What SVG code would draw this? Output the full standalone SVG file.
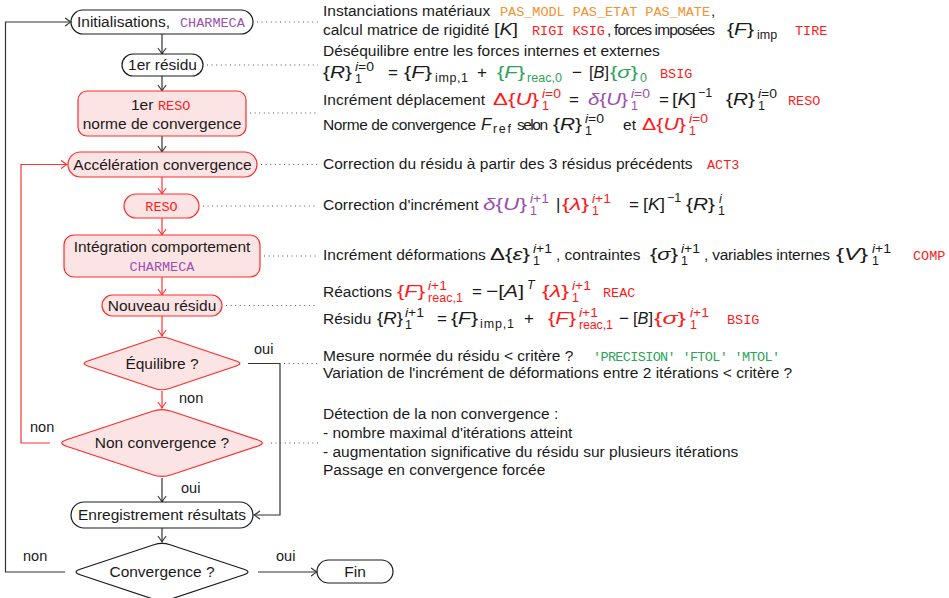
<svg xmlns="http://www.w3.org/2000/svg" width="949" height="598" viewBox="0 0 949 598">
  <defs>
    <style>
      text { font-family: "Liberation Sans", Arial, sans-serif; font-size: 15.5px; fill: #1a1a1a; }
      .c { text-anchor: middle; }
      .i { font-style: italic; }
      .mt { font-size: 17px; }
      .s { font-size: 12.5px; }
      .m { font-family: "Liberation Mono", "Courier New", monospace; font-size: 13.5px; }
      .red { fill: #ff1a1a; }
      .org { fill: #f39130; }
      .pur { fill: #9c4fb0; }
      .grn { fill: #2da35a; }
      .lbl { font-size: 14.5px; }
      .nb { fill: #ffffff; stroke: #1a1a1a; stroke-width: 1.2; }
      .nr { fill: #fde4e4; stroke: #ff2a2a; stroke-width: 1.2; }
      .kb { fill: none; stroke: #333333; stroke-width: 1.2; }
      .kr { fill: none; stroke: #ff3333; stroke-width: 1.2; }
      .dot { fill: none; stroke: #555555; stroke-width: 1.1; stroke-dasharray: 1 3.6; }
    </style>
    <marker id="ab" markerUnits="userSpaceOnUse" markerWidth="12" markerHeight="12" viewBox="-7 -6 8 12" refX="0" refY="0" orient="auto">
      <path d="M -5.5 -3.8 Q -1.8 -0.9 0 0 Q -1.8 0.9 -5.5 3.8" fill="none" stroke="#333333" stroke-width="1.2" stroke-linecap="round"/>
    </marker>
    <marker id="ar" markerUnits="userSpaceOnUse" markerWidth="12" markerHeight="12" viewBox="-7 -6 8 12" refX="0" refY="0" orient="auto">
      <path d="M -5.5 -3.8 Q -1.8 -0.9 0 0 Q -1.8 0.9 -5.5 3.8" fill="none" stroke="#ff3333" stroke-width="1.2" stroke-linecap="round"/>
    </marker>
  </defs>

  <rect width="949" height="598" fill="#ffffff"/>

  <!-- connectors -->
  <g id="connectors">
    <line class="kb" x1="162" y1="34" x2="162" y2="54" marker-end="url(#ab)"/>
    <line class="kb" x1="162" y1="76" x2="162" y2="91" marker-end="url(#ab)"/>
    <line class="kb" x1="162" y1="136" x2="162" y2="152" marker-end="url(#ab)"/>
    <line class="kr" x1="162" y1="177" x2="162" y2="194" marker-end="url(#ar)"/>
    <line class="kr" x1="162" y1="218" x2="162" y2="235" marker-end="url(#ar)"/>
    <line class="kr" x1="162" y1="277" x2="162" y2="295" marker-end="url(#ar)"/>
    <line class="kr" x1="162" y1="316" x2="162" y2="336" marker-end="url(#ar)"/>
    <line class="kr" x1="162" y1="391" x2="162" y2="408" marker-end="url(#ar)"/>
    <line class="kb" x1="162" y1="478" x2="162" y2="502" marker-end="url(#ab)"/>
    <line class="kb" x1="162" y1="528" x2="162" y2="542" marker-end="url(#ab)"/>
    <!-- outer loop: Convergence ? (non) back to Initialisations -->
    <path class="kb" d="M 65 572 H 5.5 V 22 H 71" marker-end="url(#ab)"/>
    <!-- inner loop: Non convergence ? (non) back to acceleration -->
    <path class="kr" d="M 50 443 H 21 V 164.5 H 67" marker-end="url(#ar)"/>
    <!-- Equilibre ? (oui) to results -->
    <path class="kb" d="M 248 363.5 H 280 V 515 H 254" marker-end="url(#ab)"/>
    <line class="kb" x1="258" y1="572" x2="317" y2="572" marker-end="url(#ab)"/>

    <text class="lbl" x="254" y="354">oui</text>
    <text class="lbl" x="179" y="403">non</text>
    <text class="lbl" x="30" y="432">non</text>
    <text class="lbl" x="181" y="493">oui</text>
    <text class="lbl" x="23" y="561">non</text>
    <text class="lbl" x="276" y="561">oui</text>

    <!-- dotted leaders to the annotations -->
    <line class="dot" x1="257" y1="22" x2="318" y2="22"/>
    <line class="dot" x1="207" y1="65" x2="318" y2="65"/>
    <line class="dot" x1="250" y1="113" x2="318" y2="113"/>
    <line class="dot" x1="261" y1="164.5" x2="318" y2="164.5"/>
    <line class="dot" x1="203" y1="206" x2="318" y2="206"/>
    <line class="dot" x1="264" y1="256" x2="318" y2="256"/>
    <line class="dot" x1="226" y1="305.5" x2="318" y2="305.5"/>
    <line class="dot" x1="284" y1="363.5" x2="318" y2="363.5"/>
    <line class="dot" x1="271" y1="443" x2="318" y2="443"/>
  </g>

  <!-- nodes -->
  <g id="init">
    <rect class="nb" x="71" y="10" width="182" height="24" rx="12"/>
    <text x="77" y="27">Initialisations,</text>
    <text class="m pur" x="180" y="27">CHARMECA</text>
  </g>
  <g id="residu1">
    <rect class="nb" x="122" y="54" width="81" height="22" rx="11"/>
    <text class="c" x="162.5" y="70">1er résidu</text>
  </g>
  <g id="reso1">
    <rect class="nr" x="78" y="91" width="168" height="45" rx="9"/>
    <text x="131" y="110">1er</text>
    <text class="m red" x="158" y="110">RESO</text>
    <text class="c" x="162" y="129">norme de convergence</text>
  </g>
  <g id="acceleration">
    <rect class="nr" x="68" y="152" width="189" height="25" rx="12.5"/>
    <text class="c" x="162.5" y="170">Accélération convergence</text>
  </g>
  <g id="reso">
    <rect class="nr" x="124" y="194" width="75" height="24" rx="12"/>
    <text class="m red c" x="161.5" y="211">RESO</text>
  </g>
  <g id="integration">
    <rect class="nr" x="64" y="235" width="196" height="42" rx="10"/>
    <text class="c" x="162" y="252">Intégration comportement</text>
    <text class="m pur c" x="162" y="271">CHARMECA</text>
  </g>
  <g id="nouveau-residu">
    <rect class="nr" x="102" y="295" width="120" height="21" rx="10.5"/>
    <text class="c" x="162" y="311">Nouveau résidu</text>
  </g>
  <g id="equilibre">
    <path class="nr" d="M 169.3 338.5 L 236.2 361 Q 243.5 363.5 236.2 366 L 169.3 388.5 Q 162 391 154.7 388.5 L 87.8 366 Q 80.5 363.5 87.8 361 L 154.7 338.5 Q 162 336 169.3 338.5 Z"/>
    <text class="c" x="162" y="369">Équilibre ?</text>
  </g>
  <g id="non-convergence">
    <path class="nr" d="M 171.5 411.2 L 257.5 439.8 Q 267 443 257.5 446.2 L 171.5 474.8 Q 162 478 152.5 474.8 L 66.5 446.2 Q 57 443 66.5 439.8 L 152.5 411.2 Q 162 408 171.5 411.2 Z"/>
    <text class="c" x="162" y="448">Non convergence ?</text>
  </g>
  <g id="enregistrement">
    <rect class="nb" x="71" y="502" width="182" height="26" rx="13"/>
    <text class="c" x="162" y="520">Enregistrement résultats</text>
  </g>
  <g id="convergence">
    <path class="nb" d="M 170.1 544.7 L 243.9 569.3 Q 252 572 243.9 574.7 L 170.1 599.3 Q 162 602 153.9 599.3 L 80.1 574.7 Q 72 572 80.1 569.3 L 153.9 544.7 Q 162 542 170.1 544.7 Z"/>
    <text class="c" x="162" y="577">Convergence ?</text>
  </g>
  <g id="fin">
    <rect class="nb" x="317" y="560" width="76" height="23" rx="11.5"/>
    <text class="c" x="355" y="577">Fin</text>
  </g>

  <!-- annotations -->
  <g id="notes">
    <!-- initialisation -->
    <text x="323" y="16">Instanciations matériaux</text>
    <text class="m org" x="500" y="16" textLength="210">PAS_MODL PAS_ETAT PAS_MATE</text>
    <text x="711" y="16">,</text>
    <text x="323" y="35">calcul matrice de rigidité</text>
    <text class="mt" x="494" y="35" textLength="24" lengthAdjust="spacingAndGlyphs">[<tspan class="i">K</tspan>]</text>
    <text class="m red" x="532" y="35">RIGI KSIG</text>
    <text x="607" y="35" textLength="108">, forces imposées</text>
    <text class="mt" x="727" y="35" textLength="27" lengthAdjust="spacingAndGlyphs">{<tspan class="i">F</tspan>}</text>
    <text class="s" x="757" y="39">imp</text>
    <text class="m red" x="795" y="35">TIRE</text>

    <!-- first residual -->
    <text x="323" y="56">Déséquilibre entre les forces internes et externes</text>
    <text class="mt" x="323" y="78" textLength="29" lengthAdjust="spacingAndGlyphs">{<tspan class="i">R</tspan>}</text>
    <text class="s" x="355" y="70.5" textLength="19" lengthAdjust="spacingAndGlyphs"><tspan class="i">i</tspan>=0</text>
    <text class="s" x="355" y="83">1</text>
    <text class="mt" x="388" y="78">=</text>
    <text class="mt" x="404" y="78" textLength="28" lengthAdjust="spacingAndGlyphs">{<tspan class="i">F</tspan>}</text>
    <text class="s" x="435" y="82" textLength="33">imp,1</text>
    <text class="mt" x="477" y="78">+</text>
    <text class="mt grn" x="497" y="78" textLength="28" lengthAdjust="spacingAndGlyphs">{<tspan class="i">F</tspan>}</text>
    <text class="s grn" x="527" y="82" textLength="35">reac,0</text>
    <text class="mt" x="572" y="78">−</text>
    <text class="mt" x="589" y="78" textLength="20" lengthAdjust="spacingAndGlyphs">[<tspan class="i">B</tspan>]</text>
    <text class="mt grn" x="610" y="78" textLength="28" lengthAdjust="spacingAndGlyphs">{<tspan class="i">σ</tspan>}</text>
    <text class="s grn" x="640" y="82">0</text>
    <text class="m red" x="660" y="78">BSIG</text>

    <!-- first solve -->
    <text x="323" y="105">Incrément déplacement</text>
    <text class="mt red" x="493" y="105" textLength="46" lengthAdjust="spacingAndGlyphs">Δ{<tspan class="i">U</tspan>}</text>
    <text class="s red" x="542" y="97.5" textLength="19" lengthAdjust="spacingAndGlyphs"><tspan class="i">i</tspan>=0</text>
    <text class="s red" x="542" y="110">1</text>
    <text class="mt" x="569" y="105">=</text>
    <text class="mt pur" x="588" y="105" textLength="40" lengthAdjust="spacingAndGlyphs"><tspan class="i">δ</tspan>{<tspan class="i">U</tspan>}</text>
    <text class="s pur" x="631" y="97.5" textLength="19" lengthAdjust="spacingAndGlyphs"><tspan class="i">i</tspan>=0</text>
    <text class="s pur" x="631" y="110">1</text>
    <text class="mt" x="659" y="105">=</text>
    <text class="mt" x="672" y="105" textLength="24" lengthAdjust="spacingAndGlyphs">[<tspan class="i">K</tspan>]</text>
    <text class="s" x="698" y="97">−1</text>
    <text class="mt" x="726" y="105" textLength="29" lengthAdjust="spacingAndGlyphs">{<tspan class="i">R</tspan>}</text>
    <text class="s" x="758" y="97.5" textLength="19" lengthAdjust="spacingAndGlyphs"><tspan class="i">i</tspan>=0</text>
    <text class="s" x="758" y="110">1</text>
    <text class="m red" x="788" y="105">RESO</text>

    <text x="323" y="130" textLength="153">Norme de convergence</text>
    <text class="mt i" x="481" y="130">F</text>
    <text class="s" x="493" y="133" textLength="18">ref</text>
    <text x="517" y="130" textLength="31">selon</text>
    <text class="mt" x="553" y="130" textLength="29" lengthAdjust="spacingAndGlyphs">{<tspan class="i">R</tspan>}</text>
    <text class="s" x="585" y="122.5" textLength="19" lengthAdjust="spacingAndGlyphs"><tspan class="i">i</tspan>=0</text>
    <text class="s" x="585" y="135">1</text>
    <text x="623" y="130" textLength="13">et</text>
    <text class="mt red" x="642" y="130" textLength="44" lengthAdjust="spacingAndGlyphs">Δ{<tspan class="i">U</tspan>}</text>
    <text class="s red" x="689" y="122.5" textLength="19" lengthAdjust="spacingAndGlyphs"><tspan class="i">i</tspan>=0</text>
    <text class="s red" x="689" y="135">1</text>

    <!-- acceleration -->
    <text x="323" y="169">Correction du résidu à partir des 3 résidus précédents</text>
    <text class="m red" x="707" y="169">ACT3</text>

    <!-- increment correction -->
    <text x="323" y="210">Correction d'incrément</text>
    <text class="mt pur" x="483" y="210" textLength="44" lengthAdjust="spacingAndGlyphs"><tspan class="i">δ</tspan>{<tspan class="i">U</tspan>}</text>
    <text class="s pur" x="530" y="202.5" textLength="19" lengthAdjust="spacingAndGlyphs"><tspan class="i">i</tspan>+1</text>
    <text class="s pur" x="530" y="215">1</text>
    <text class="mt" x="556" y="210">|</text>
    <text class="mt red" x="562" y="210" textLength="27" lengthAdjust="spacingAndGlyphs">{<tspan class="i">λ</tspan>}</text>
    <text class="s red" x="592" y="202.5" textLength="19" lengthAdjust="spacingAndGlyphs"><tspan class="i">i</tspan>+1</text>
    <text class="s red" x="592" y="215">1</text>
    <text class="mt" x="629" y="210">=</text>
    <text class="mt" x="643" y="210" textLength="22" lengthAdjust="spacingAndGlyphs">[<tspan class="i">K</tspan>]</text>
    <text class="s" x="667" y="202">−1</text>
    <text class="mt" x="686" y="210" textLength="29" lengthAdjust="spacingAndGlyphs">{<tspan class="i">R</tspan>}</text>
    <text class="s i" x="719" y="202.5">i</text>
    <text class="s" x="718" y="215">1</text>

    <!-- constitutive integration -->
    <text x="323" y="260">Incrément déformations</text>
    <text class="mt" x="490" y="260" textLength="40" lengthAdjust="spacingAndGlyphs">Δ{<tspan class="i">ε</tspan>}</text>
    <text class="s" x="533" y="252.5" textLength="19" lengthAdjust="spacingAndGlyphs"><tspan class="i">i</tspan>+1</text>
    <text class="s" x="533" y="265">1</text>
    <text x="556" y="260">, contraintes</text>
    <text class="mt" x="650" y="260" textLength="28" lengthAdjust="spacingAndGlyphs">{<tspan class="i">σ</tspan>}</text>
    <text class="s" x="681" y="252.5" textLength="19" lengthAdjust="spacingAndGlyphs"><tspan class="i">i</tspan>+1</text>
    <text class="s" x="681" y="265">1</text>
    <text x="704" y="260" textLength="126">, variables internes</text>
    <text class="mt" x="836" y="260" textLength="32" lengthAdjust="spacingAndGlyphs">{<tspan class="i">V</tspan>}</text>
    <text class="s" x="872" y="252.5" textLength="19" lengthAdjust="spacingAndGlyphs"><tspan class="i">i</tspan>+1</text>
    <text class="s" x="872" y="265">1</text>
    <text class="m red" x="913" y="260">COMP</text>

    <!-- new residual -->
    <text x="323" y="297">Réactions</text>
    <text class="mt red" x="397" y="297" textLength="28" lengthAdjust="spacingAndGlyphs">{<tspan class="i">F</tspan>}</text>
    <text class="s red" x="428" y="289.5" textLength="19" lengthAdjust="spacingAndGlyphs"><tspan class="i">i</tspan>+1</text>
    <text class="s red" x="428" y="302" textLength="35">reac,1</text>
    <text class="mt" x="472" y="297">=</text>
    <text class="mt" x="486" y="297" textLength="38" lengthAdjust="spacingAndGlyphs">−[<tspan class="i">A</tspan>]</text>
    <text class="s i" x="527" y="288.5">T</text>
    <text class="mt red" x="542" y="297" textLength="27" lengthAdjust="spacingAndGlyphs">{<tspan class="i">λ</tspan>}</text>
    <text class="s red" x="572" y="289.5" textLength="19" lengthAdjust="spacingAndGlyphs"><tspan class="i">i</tspan>+1</text>
    <text class="s red" x="572" y="302">1</text>
    <text class="m red" x="603" y="297">REAC</text>

    <text x="323" y="324">Résidu</text>
    <text class="mt" x="377" y="324" textLength="26" lengthAdjust="spacingAndGlyphs">{<tspan class="i">R</tspan>}</text>
    <text class="s" x="405" y="316.5" textLength="19" lengthAdjust="spacingAndGlyphs"><tspan class="i">i</tspan>+1</text>
    <text class="s" x="405" y="329">1</text>
    <text class="mt" x="437" y="324">=</text>
    <text class="mt" x="451" y="324" textLength="27" lengthAdjust="spacingAndGlyphs">{<tspan class="i">F</tspan>}</text>
    <text class="s" x="480" y="328" textLength="34">imp,1</text>
    <text class="mt" x="524" y="324">+</text>
    <text class="mt red" x="548" y="324" textLength="28" lengthAdjust="spacingAndGlyphs">{<tspan class="i">F</tspan>}</text>
    <text class="s red" x="579" y="316.5" textLength="19" lengthAdjust="spacingAndGlyphs"><tspan class="i">i</tspan>+1</text>
    <text class="s red" x="579" y="329" textLength="34">reac,1</text>
    <text class="mt" x="619" y="324">−</text>
    <text class="mt" x="633" y="324" textLength="20" lengthAdjust="spacingAndGlyphs">[<tspan class="i">B</tspan>]</text>
    <text class="mt red" x="654" y="324" textLength="32" lengthAdjust="spacingAndGlyphs">{<tspan class="i">σ</tspan>}</text>
    <text class="s red" x="690" y="316.5" textLength="19" lengthAdjust="spacingAndGlyphs"><tspan class="i">i</tspan>+1</text>
    <text class="s red" x="690" y="329">1</text>
    <text class="m red" x="727" y="324">BSIG</text>

    <!-- equilibrium test -->
    <text x="323" y="361">Mesure normée du résidu &lt; critère ?</text>
    <text class="m grn" x="593" y="361" textLength="187">'PRECISION' 'FTOL' 'MTOL'</text>
    <text x="323" y="378">Variation de l'incrément de déformations entre 2 itérations &lt; critère ?</text>

    <!-- non-convergence test -->
    <text x="323" y="419">Détection de la non convergence :</text>
    <text x="323" y="438">- nombre maximal d'itérations atteint</text>
    <text x="323" y="457">- augmentation significative du résidu sur plusieurs itérations</text>
    <text x="323" y="475">Passage en convergence forcée</text>
  </g>
</svg>
